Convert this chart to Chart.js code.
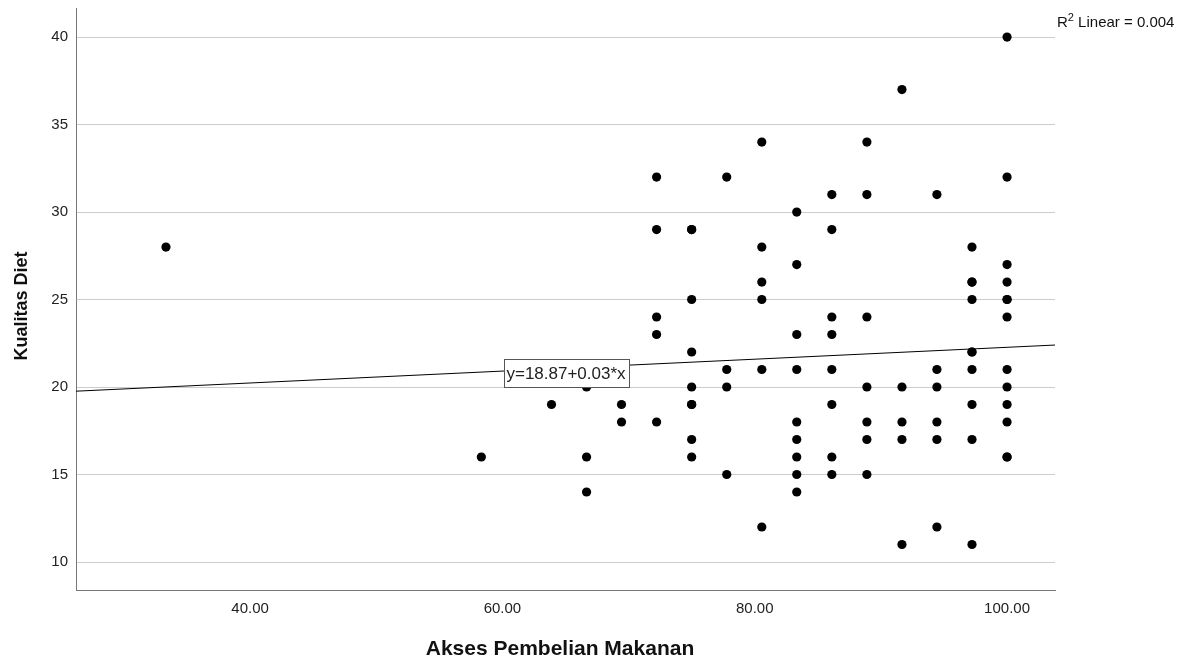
<!DOCTYPE html>
<html><head><meta charset="utf-8">
<script src="https://cdn.jsdelivr.net/npm/chart.js@4/dist/chart.umd.min.js"></script>
<style>html,body{margin:0;padding:0;background:#fff}canvas{display:block}</style>
</head><body>
<canvas id="c" width="1186" height="661"></canvas>
<script>
// ---- data ----
const accessX = [
  33.33,
  58.33,
  63.89,
  66.67, 66.67, 66.67,
  69.44, 69.44,
  72.22, 72.22, 72.22, 72.22, 72.22,
  75.00, 75.00, 75.00, 75.00, 75.00, 75.00, 75.00, 75.00, 75.00,
  77.78, 77.78, 77.78, 77.78,
  80.56, 80.56, 80.56, 80.56, 80.56, 80.56,
  83.33, 83.33, 83.33, 83.33, 83.33, 83.33, 83.33, 83.33, 83.33,
  86.11, 86.11, 86.11, 86.11, 86.11, 86.11, 86.11, 86.11,
  88.89, 88.89, 88.89, 88.89, 88.89, 88.89, 88.89,
  91.67, 91.67, 91.67, 91.67, 91.67,
  94.44, 94.44, 94.44, 94.44, 94.44, 94.44,
  97.22, 97.22, 97.22, 97.22, 97.22, 97.22, 97.22, 97.22, 97.22, 97.22,
  100.00, 100.00, 100.00, 100.00, 100.00, 100.00, 100.00, 100.00, 100.00, 100.00, 100.00, 100.00, 100.00
];
const dietY = [
  28,
  16,
  19,
  20, 16, 14,
  19, 18,
  32, 29, 24, 23, 18,
  29, 29, 25, 22, 20, 19, 19, 17, 16,
  32, 21, 20, 15,
  34, 28, 26, 25, 21, 12,
  30, 27, 23, 21, 18, 17, 16, 15, 14,
  31, 29, 24, 23, 21, 19, 16, 15,
  34, 31, 24, 20, 18, 17, 15,
  37, 20, 18, 17, 11,
  31, 21, 20, 18, 17, 12,
  28, 26, 26, 25, 22, 22, 21, 19, 17, 11,
  40, 32, 27, 26, 25, 25, 24, 21, 20, 19, 18, 16, 16
];
const xTicks = [40, 60, 80, 100];
const yTicks = [10, 15, 20, 25, 30, 35, 40];
const xRange = [26.2, 103.8];
const yRange = [8.4, 41.66];
const fitIntercept = 18.87;
const fitSlope = 0.034;
const fitLabel = 'y=18.87+0.03*x';
const fitLabelAt = [65.04, 20.8];
const r2Parts = ['R', '2', ' Linear = 0.004'];
const xTitle = 'Akses Pembelian Makanan';
const yTitle = 'Kualitas Diet';

const FONT = '"Liberation Sans", Arial, Helvetica, sans-serif';

const points = accessX.map((x, i) => ({x: x, y: dietY[i]}));
const fitLine = xRange.map(x => ({x: x, y: fitIntercept + fitSlope * x}));

const extras = {
  id: 'extras',
  afterDatasetsDraw(chart) {
    const ctx = chart.ctx;
    const xs = chart.scales.x, ys = chart.scales.y;
    ctx.save();
    // fit label box
    const cx = xs.getPixelForValue(fitLabelAt[0]);
    const cy = ys.getPixelForValue(fitLabelAt[1]);
    ctx.font = '17px ' + FONT;
    const tw = ctx.measureText(fitLabel).width;
    const bw = Math.round(tw + 6), bh = 28;
    const bx = Math.round(cx - bw / 2) + 0.5, by = Math.round(cy - bh / 2) + 0.5;
    ctx.fillStyle = '#fff';
    ctx.fillRect(bx, by, bw, bh);
    ctx.strokeStyle = '#555';
    ctx.lineWidth = 1;
    ctx.strokeRect(bx, by, bw, bh);
    ctx.fillStyle = '#222';
    ctx.textAlign = 'center';
    ctx.textBaseline = 'middle';
    ctx.fillText(fitLabel, cx, cy + 1);
    ctx.restore();
  },
  afterDraw(chart) {
    const ctx = chart.ctx;
    const area = chart.chartArea;
    ctx.save();
    ctx.fillStyle = '#111';
    // R^2 text
    ctx.textAlign = 'left';
    ctx.textBaseline = 'alphabetic';
    let x = area.right + 2;
    const base = 27;
    ctx.font = '15px ' + FONT;
    ctx.fillText(r2Parts[0], x, base);
    x += ctx.measureText(r2Parts[0]).width;
    ctx.font = '11px ' + FONT;
    ctx.fillText(r2Parts[1], x, base - 6);
    x += ctx.measureText(r2Parts[1]).width;
    ctx.font = '15px ' + FONT;
    ctx.fillText(r2Parts[2], x, base);
    // axis titles
    ctx.font = 'bold 21px ' + FONT;
    ctx.textAlign = 'center';
    ctx.fillText(xTitle, 560, 655);
    ctx.translate(27, 306);
    ctx.rotate(-Math.PI / 2);
    ctx.font = 'bold 18px ' + FONT;
    ctx.fillText(yTitle, 0, 0);
    ctx.restore();
  }
};

new Chart(document.getElementById('c'), {
  type: 'scatter',
  data: {
    datasets: [
      {
        label: 'fit',
        data: fitLine,
        showLine: true,
        borderColor: '#000',
        borderWidth: 1,
        pointRadius: 0,
        pointHoverRadius: 0,
        order: 2
      },
      {
        label: 'points',
        data: points,
        backgroundColor: '#000',
        borderWidth: 0,
        pointRadius: 4.6,
        pointHoverRadius: 4.6,
        order: 1
      }
    ]
  },
  plugins: [extras],
  options: {
    responsive: false,
    animation: false,
    devicePixelRatio: 1,
    layout: {padding: {left: 0, right: 131, top: 8, bottom: 0}},
    plugins: {legend: {display: false}, tooltip: {enabled: false}},
    scales: {
      x: {
        type: 'linear',
        min: xRange[0], max: xRange[1],
        afterFit(s) { s.height = 71; s.paddingLeft = 0; s.paddingRight = 0; },
        afterBuildTicks(s) { s.ticks = xTicks.map(v => ({value: v})); },
        grid: {display: false},
        border: {display: true, color: '#777', width: 1},
        ticks: {
          padding: 2,
          color: '#222',
          font: {family: FONT, size: 15},
          callback: v => Number(v).toFixed(2),
          maxRotation: 0
        }
      },
      y: {
        type: 'linear',
        min: yRange[0], max: yRange[1],
        afterFit(s) { s.width = 76; s.paddingTop = 0; s.paddingBottom = 0; },
        afterBuildTicks(s) { s.ticks = yTicks.map(v => ({value: v})); },
        grid: {color: '#cccccc', lineWidth: 1, drawTicks: false},
        border: {display: true, color: '#777', width: 1},
        ticks: {
          padding: 8,
          color: '#222',
          font: {family: FONT, size: 15},
          callback: v => String(v)
        }
      }
    }
  }
});
</script>
</body></html>
